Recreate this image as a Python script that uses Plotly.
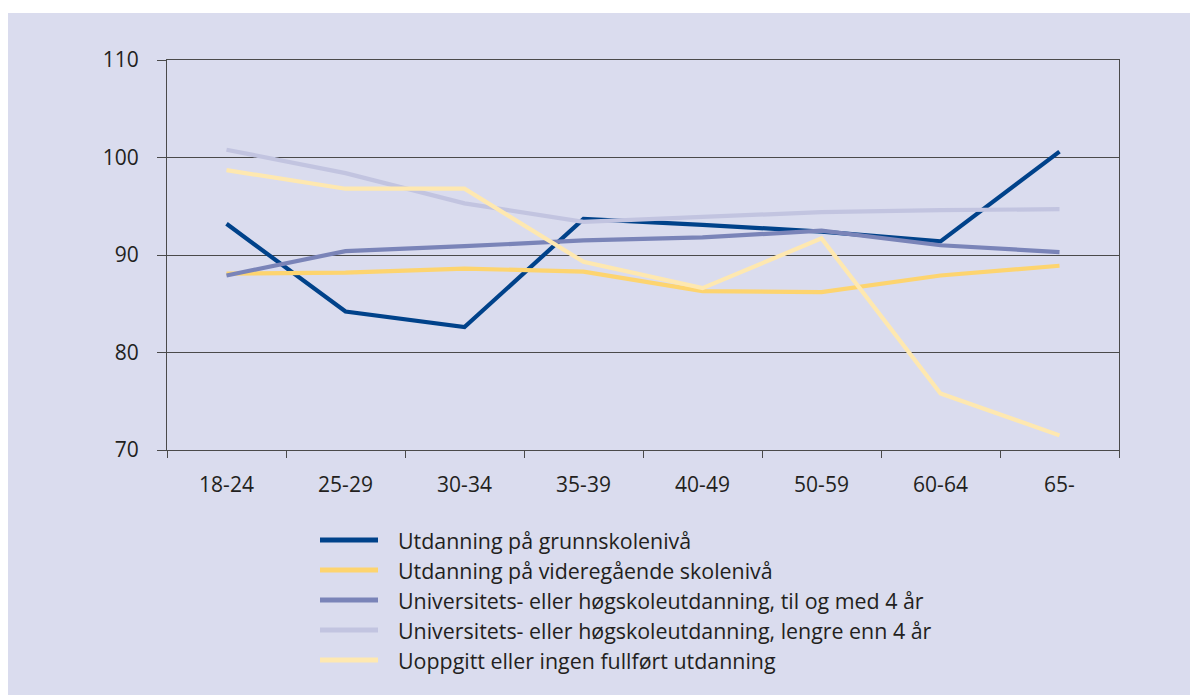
import plotly.graph_objects as go

categories = ["18-24", "25-29", "30-34", "35-39", "40-49", "50-59", "60-64", "65-"]

series_names = [
    "Utdanning på grunnskolenivå",
    "Utdanning på videregående skolenivå",
    "Universitets- eller høgskoleutdanning, til og med 4 år",
    "Universitets- eller høgskoleutdanning, lengre enn 4 år",
    "Uoppgitt eller ingen fullført utdanning",
]

grunnskole = [93.2, 84.2, 82.6, 93.7, 93.1, 92.4, 91.4, 100.6]
videregaende = [88.1, 88.2, 88.6, 88.3, 86.3, 86.2, 87.9, 88.9]
uni_til_4 = [87.9, 90.4, 90.9, 91.5, 91.8, 92.5, 91.0, 90.3]
uni_over_4 = [100.8, 98.4, 95.3, 93.4, 93.9, 94.4, 94.6, 94.7]
uoppgitt = [98.7, 96.8, 96.8, 89.3, 86.6, 91.7, 75.8, 71.5]

y_ticks = [70, 80, 90, 100, 110]

series_values = [grunnskole, videregaende, uni_til_4, uni_over_4, uoppgitt]
colors = ["#00428a", "#fdd46f", "#7a84b8", "#c2c4e0", "#fee8b0"]

PANEL = "#dadcee"
TEXT = "#231f20"
AXIS = "#4a4a4a"
FONT = "Open Sans"

OFF = 8  # page body margin
W, H = 1198 - OFF, 695 - OFF
# plot area in page pixels (reference), converted to figure pixels
L, R, T, B = 167 - OFF, 1119 - OFF, 60 - OFF, 450 - OFF


def px(xp):
    return (xp - OFF - L) / (R - L)


def py(yp):
    return (B - (yp - OFF)) / (B - T)


fig = go.Figure()
for name, vals, col in zip(series_names, series_values, colors):
    fig.add_trace(go.Scatter(
        x=categories, y=vals, name=name, mode="lines",
        line=dict(color=col, width=4.2), showlegend=False,
        hoverinfo="skip",
    ))

shapes = [
    dict(type="rect", xref="paper", yref="paper",
         x0=px(6), x1=px(1210), y0=py(710), y1=py(13),
         fillcolor=PANEL, line=dict(width=0), layer="below"),
]
annotations = []
row_y = [540, 570, 600, 630, 660]
for name, col, ry in zip(series_names, colors, row_y):
    shapes.append(dict(type="line", xref="paper", yref="paper",
                       x0=px(320), x1=px(378), y0=py(ry), y1=py(ry),
                       line=dict(color=col, width=5)))
    annotations.append(dict(xref="paper", yref="paper", x=px(396), y=py(ry),
                            xanchor="left", yanchor="middle", text=name,
                            showarrow=False,
                            font=dict(family=FONT, size=21.4, color=TEXT)))

fig.update_layout(
    width=W, height=H,
    margin=dict(l=L, r=W - R, t=T, b=H - B, pad=0),
    paper_bgcolor="white",
    plot_bgcolor=PANEL,
    shapes=shapes,
    annotations=annotations,
    showlegend=False,
    font=dict(family=FONT, size=21, color=TEXT),
)
fig.update_xaxes(
    type="category", range=[-0.5, 7.5], showgrid=False, zeroline=False,
    showline=True, linecolor=AXIS, linewidth=1, mirror=True,
    ticks="outside", tickson="boundaries", ticklen=7, tickcolor=AXIS,
    tickfont=dict(family=FONT, size=21, color=TEXT), ticklabelstandoff=16,
)
fig.update_yaxes(
    range=[70, 110], tickvals=y_ticks, showgrid=True, gridcolor=AXIS,
    gridwidth=1, zeroline=False, showline=True, linecolor=AXIS, linewidth=1,
    mirror=True, ticks="outside", ticklen=9, tickcolor=AXIS,
    tickfont=dict(family=FONT, size=21, color=TEXT), ticklabelstandoff=14,
)

fig.write_html("out.html")
